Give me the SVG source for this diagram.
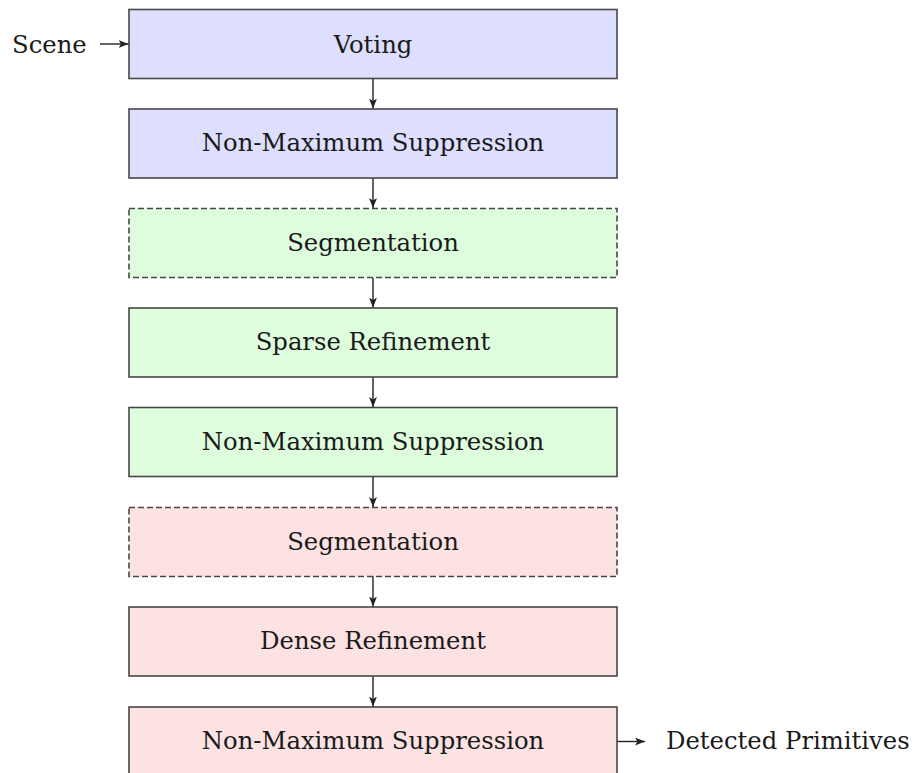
<svg xmlns="http://www.w3.org/2000/svg" width="915" height="773" viewBox="0 0 915 773">
  <style>
    .box { stroke: #474747; stroke-width: 1.6; }
    .dashed { stroke-dasharray: 6 3; }
    .blue { fill: #dedefe; }
    .green { fill: #ddfddd; }
    .red { fill: #fde2e3; }
    .label { font-family: "DejaVu Serif", serif; font-size: 24.3px; fill: #1a1a1a; text-anchor: middle; }
    .side { font-family: "DejaVu Serif", serif; font-size: 24.3px; fill: #1a1a1a; }
    .edge { stroke: #222; stroke-width: 1.4; fill: none; marker-end: url(#head); }
  </style>
  <defs>
    <marker id="head" viewBox="0 0 10 8" refX="10" refY="4" markerWidth="10" markerHeight="8" markerUnits="userSpaceOnUse" orient="auto">
      <path d="M0,0 L10,4 L0,8 L2.5,4 Z" fill="#222"/>
    </marker>
  </defs>

  <!-- pipeline stages -->
  <g id="voting">
    <rect class="box blue" x="129" y="9.5" width="488" height="69"/>
    <text class="label" x="373" y="53">Voting</text>
  </g>
  <g id="nms1">
    <rect class="box blue" x="129" y="109" width="488" height="69"/>
    <text class="label" x="373" y="151">Non-Maximum Suppression</text>
  </g>
  <g id="segmentation1">
    <rect class="box green dashed" x="129" y="208.5" width="488" height="69"/>
    <text class="label" x="373" y="251">Segmentation</text>
  </g>
  <g id="sparse-refinement">
    <rect class="box green" x="129" y="308" width="488" height="69"/>
    <text class="label" x="373" y="350">Sparse Refinement</text>
  </g>
  <g id="nms2">
    <rect class="box green" x="129" y="407.5" width="488" height="69"/>
    <text class="label" x="373" y="450">Non-Maximum Suppression</text>
  </g>
  <g id="segmentation2">
    <rect class="box red dashed" x="129" y="507.5" width="488" height="69"/>
    <text class="label" x="373" y="550">Segmentation</text>
  </g>
  <g id="dense-refinement">
    <rect class="box red" x="129" y="607" width="488" height="69"/>
    <text class="label" x="373" y="649">Dense Refinement</text>
  </g>
  <g id="nms3">
    <rect class="box red" x="129" y="707" width="488" height="69"/>
    <text class="label" x="373" y="749">Non-Maximum Suppression</text>
  </g>

  <!-- input / output labels -->
  <g id="scene">
    <text class="side" x="12" y="53">Scene</text>
  </g>
  <g id="detected-primitives">
    <text class="side" x="666" y="749">Detected Primitives</text>
  </g>

  <!-- connectors -->
  <g id="connectors">
    <line class="edge" x1="100" y1="44" x2="128.5" y2="44"/>
    <line class="edge" x1="373" y1="79" x2="373" y2="108.5"/>
    <line class="edge" x1="373" y1="178.5" x2="373" y2="208"/>
    <line class="edge" x1="373" y1="278" x2="373" y2="307.5"/>
    <line class="edge" x1="373" y1="377.5" x2="373" y2="407"/>
    <line class="edge" x1="373" y1="477" x2="373" y2="507"/>
    <line class="edge" x1="373" y1="576.5" x2="373" y2="606.5"/>
    <line class="edge" x1="373" y1="676.5" x2="373" y2="706.5"/>
    <line class="edge" x1="617.5" y1="741.5" x2="645" y2="741.5"/>
  </g>
</svg>
